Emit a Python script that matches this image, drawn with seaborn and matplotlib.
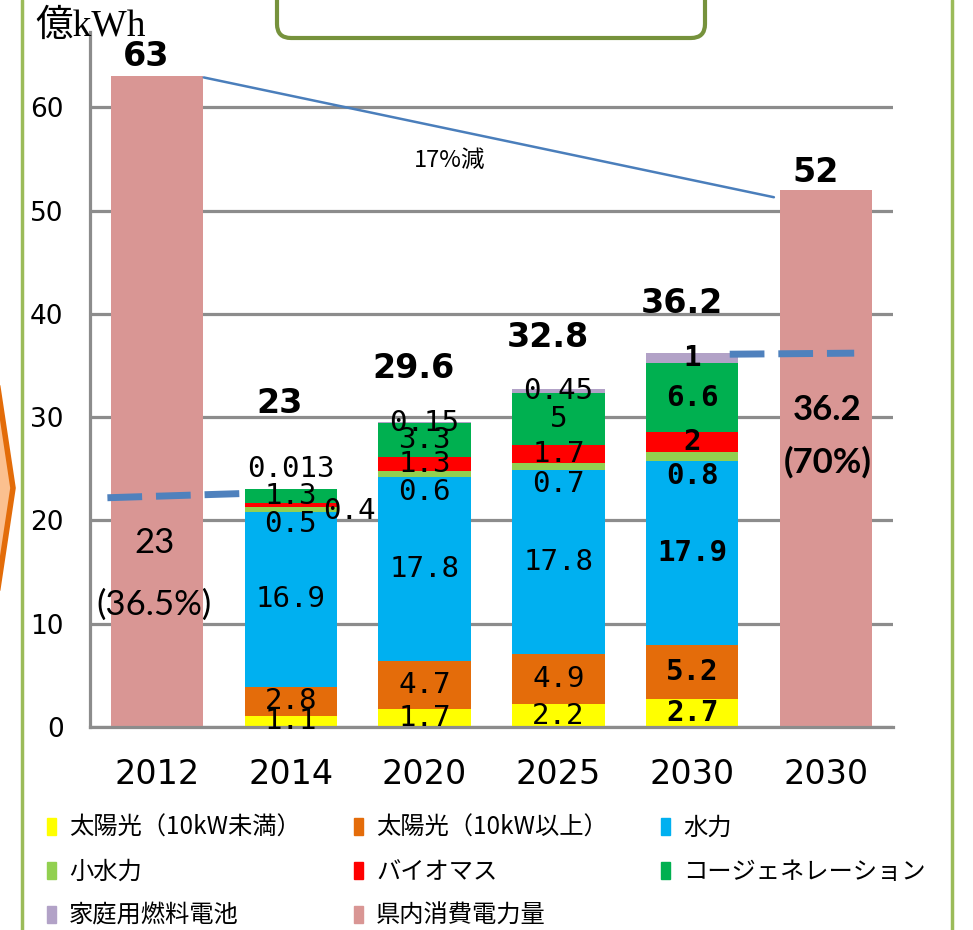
import numpy as np
import pandas as pd
import matplotlib
matplotlib.use("Agg")
import matplotlib.pyplot as plt
import seaborn as sns
from matplotlib.patches import Patch, FancyBboxPatch, Polygon
from matplotlib.lines import Line2D
from matplotlib.transforms import IdentityTransform

# --- data ---
years = ["2012", "2014", "2020", "2025", "2030", "2030"]
keys = ["c2012", "g2014", "g2020", "g2025", "g2030", "c2030"]
gen_keys = ["g2014", "g2020", "g2025", "g2030"]

series_names = ["太陽光（10kW未満）", "太陽光（10kW以上）", "水力", "小水力",
                "バイオマス", "コージェネレーション", "家庭用燃料電池"]
series_colors = ["#ffff00", "#e46c0a", "#00b0f0", "#92d050",
                 "#ff0000", "#00b050", "#b2a2c7"]
solar_small = [1.1, 1.7, 2.2, 2.7]
solar_large = [2.8, 4.7, 4.9, 5.2]
hydro = [16.9, 17.8, 17.8, 17.9]
small_hydro = [0.5, 0.6, 0.7, 0.8]
biomass = [0.4, 1.3, 1.7, 2]
cogen = [1.3, 3.3, 5, 6.6]
fuel_cell = [0.013, 0.15, 0.45, 1]
supply_totals = ["23", "29.6", "32.8", "36.2"]

demand_name = "県内消費電力量"
demand_color = "#d99694"
demand_keys = ["c2012", "c2030"]
demand = [63, 52]
share_value = ["23", "36.2"]
share_pct = ["(36.5%)", "(70%)"]
reduction_label = "17%減"

sns.set_style("white")
plt.rcParams["font.family"] = ["DejaVu Sans", "Noto Sans CJK JP"]
plt.rcParams["text.color"] = "black"
plt.rcParams["xtick.labelcolor"] = "black"
plt.rcParams["ytick.labelcolor"] = "black"

fig = plt.figure(figsize=(9.73, 9.30), dpi=100)
ax = fig.add_axes([90 / 973, 1 - 727 / 930, (893 - 90) / 973, (727 - 32) / 930])

# gridlines behind bars
ax.set_axisbelow(True)
ax.yaxis.grid(True, color="#8c8c8c", lw=2.3)

# stacked bars: draw cumulative tops from the top series down
layers = np.array([solar_small, solar_large, hydro, small_hydro, biomass, cogen, fuel_cell])
tops = np.cumsum(layers, axis=0)
for top, col in reversed(list(zip(tops, series_colors))):
    sns.barplot(x=gen_keys, y=top, order=keys, color=col, saturation=1,
                width=0.69, errorbar=None, linewidth=0, ax=ax)

sns.barplot(x=demand_keys, y=demand, order=keys, color=demand_color, saturation=1,
            width=0.69, errorbar=None, linewidth=0, ax=ax)

ax.set_xlim(-0.5, 5.5)
ax.set_ylim(0, 67.3)
ax.set_yticks(range(0, 61, 10))
ax.set_xticks(range(len(years)))
ax.set_xticklabels(years, fontsize=24)
ax.set_xlabel("")
ax.set_ylabel("")
ax.tick_params(axis="x", length=0, pad=22)
ax.tick_params(axis="y", length=7, width=2.2, color="#8c8c8c", labelsize=19, pad=12)
for s in ["top", "right"]:
    ax.spines[s].set_visible(False)
for s in ["left", "bottom"]:
    ax.spines[s].set_color("#8c8c8c")
    ax.spines[s].set_linewidth(2.3)

# segment labels
label_shift = {3: -1.7}          # 小水力 labels sit lower
mono = "DejaVu Sans Mono"
bottoms = tops - layers
for i, name in enumerate(series_names):
    for j, k in enumerate(gen_keys):
        v = layers[i, j]
        x = keys.index(k)
        y = bottoms[i, j] + v / 2 + label_shift.get(i, 0)
        if j == 0 and i == 4:      # 2014 biomass label outside right
            x, y = x + 0.44, 20.9
        if j == 0 and i == 6:      # 2014 fuel cell label above
            y = 25.0
        if j == 0 and i == 3:
            y = 19.7
        if i == 3 and j == 3:
            y = 24.3
        ax.text(x, y, f"{v:g}", ha="center", va="center", fontsize=21, family=mono,
                fontweight="bold" if j == 3 else "normal")

# totals above bars
total_y = [31.3, 34.75, 37.75, 41.0]
for j, k in enumerate(gen_keys):
    ax.text(keys.index(k) - 0.08, total_y[j], supply_totals[j], ha="center", va="center",
            fontsize=24, fontweight="bold")
for k, v, off in zip(demand_keys, demand, [1.9, 1.7]):
    ax.text(keys.index(k) - 0.08, v + off, f"{v}", ha="center", va="center",
            fontsize=24, fontweight="bold")

# text inside demand bars
ax.text(-0.02, 17.8, share_value[0], ha="center", va="center", fontsize=25, family="Lato")
ax.text(-0.02, 11.8, share_pct[0], ha="center", va="center", fontsize=25, family="Lato")
ax.text(5.01, 30.7, share_value[1], ha="center", va="center", fontsize=25,
        family="Lato", fontweight="bold")
ax.text(5.01, 25.6, share_pct[1], ha="center", va="center", fontsize=25,
        family="Lato", fontweight="bold")

# reduction line and dashed self-supply lines
ax.plot([0.35, 4.61], [62.9, 51.3], color="#4a7ebb", lw=1.8)
ax.text(2.19, 54.9, reduction_label, ha="center", va="center", fontsize=17,
        family=["Noto Sans CJK JP"])
ax.plot([-0.37, 0.62], [22.2, 22.6], color="#4f81bd", lw=5, dashes=(5, 2))
ax.plot([4.28, 5.21], [36.1, 36.2], color="#4f81bd", lw=5, dashes=(5, 2))

# unit label
fig.text(35 / 973, 1 - 27 / 930, "億kWh", ha="left", va="center", fontsize=27,
         family=["Liberation Serif", "Noto Sans CJK JP"])

# legend, reordered so it reads row by row
handles = [Patch(color=c, label=n) for n, c in zip(series_names, series_colors)]
handles.append(Patch(color=demand_color, label=demand_name))
order = [0, 3, 6, 1, 4, 7, 2, 5]
fig.legend(handles=[handles[i] for i in order], loc="upper left",
           bbox_to_anchor=(47 / 973, 1 - 815 / 930), ncol=3, frameon=False,
           prop={"family": ["Noto Sans CJK JP"], "size": 17.5},
           handlelength=0.35, handleheight=0.7, handletextpad=0.55,
           columnspacing=2.2, labelspacing=0.74, borderpad=0, borderaxespad=0)

# frame decorations
for xp in [22, 952]:
    fig.add_artist(Line2D([xp, xp], [0, 930], transform=IdentityTransform(),
                          color="#9bbb59", lw=2.5))
fig.add_artist(FancyBboxPatch((277, 930 - 38), 428, 60, boxstyle="round,pad=0,rounding_size=14",
                              transform=IdentityTransform(), facecolor="white",
                              edgecolor="#76923c", lw=3))
fig.add_artist(Polygon([(-20, 930 - 388), (-2, 930 - 388), (13, 930 - 488), (-2, 930 - 588),
                        (-20, 930 - 588)], closed=True, transform=IdentityTransform(),
                       facecolor="#fbc08f", edgecolor="#e36c09", lw=4))

fig.savefig("out.png", dpi=100)
